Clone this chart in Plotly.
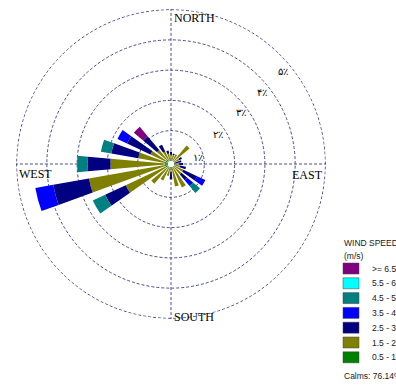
import plotly.graph_objects as go

# Wind directions (degrees, clockwise from north), 15-degree sectors
directions = [0, 15, 30, 45, 60, 75, 90, 105, 120, 135, 150, 165,
              180, 195, 210, 225, 240, 255, 270, 285, 300, 315, 330, 345]

# Frequency (%) per speed class, stacked outward
spd_05_15 = [0.05, 0.0, 0.0, 0.05, 0.0, 0.0, 0.0, 0.0, 0.05, 0.05, 0.05, 0.05,
             0.05, 0.0, 0.05, 0.05, 0.1, 0.1, 0.1, 0.1, 0.1, 0.1, 0.05, 0.05]
spd_15_25 = [0.15, 0.2, 0.25, 0.65, 0.2, 0.0, 0.15, 0.2, 0.3, 0.3, 0.7, 0.6,
             0.1, 0.3, 0.45, 0.7, 1.45, 2.55, 1.8, 0.9, 0.55, 0.4, 0.3, 0.2]
spd_25_35 = [0.1, 0.05, 0.0, 0.0, 0.1, 0.25, 0.15, 0.2, 0.5, 0.25, 0.0, 0.0,
             0.25, 0.0, 0.0, 0.0, 0.75, 1.2, 0.75, 0.9, 0.85, 0.6, 0.25, 0.1]
spd_35_45 = [0, 0, 0, 0, 0, 0, 0, 0, 0.3, 0.25, 0, 0,
             0, 0, 0, 0, 0, 0.6, 0, 0, 0.35, 0, 0, 0]
spd_45_55 = [0, 0, 0, 0, 0, 0, 0, 0, 0, 0.3, 0, 0,
             0, 0, 0, 0, 0.45, 0, 0.35, 0.35, 0, 0, 0, 0]
spd_55_65 = [0] * 24
spd_65_up = [0, 0, 0, 0, 0, 0, 0, 0, 0, 0, 0, 0,
             0, 0, 0, 0, 0, 0, 0, 0, 0, 0.4, 0, 0]

speed_labels = ["0.5 - 1.5", "1.5 - 2.5", "2.5 - 3.5", "3.5 - 4.5",
                "4.5 - 5.5", "5.5 - 6.5", ">= 6.5"]
speed_colors = ["#008000", "#808000", "#000080", "#0000FF",
                "#008080", "#00FFFF", "#800080"]
series = [spd_05_15, spd_15_25, spd_25_35, spd_35_45, spd_45_55, spd_55_65, spd_65_up]

ring_values = [1, 2, 3, 4, 5]
ring_labels = ["۱٪", "۲٪", "۳٪", "۴٪", "۵٪"]
ring_label_r = [0.8, 1.72, 2.75, 3.7, 4.68]
ring_label_theta = [78, 59, 54, 52, 51]

calms_text = "Calms: 76.14%"

W, H = 396, 385


def px(x):
    return x / W


def py(y):
    return 1 - y / H


fig = go.Figure()
for vals, lab, col in zip(series, speed_labels, speed_colors):
    fig.add_trace(go.Barpolar(r=vals, theta=directions, width=10, name=lab,
                              marker=dict(color=col, line=dict(width=0)),
                              showlegend=False))

grid_col = "#4b4b8c"
grid_dash = "3px,2px"
# outer 5% ring (dashed), drawn via the polar scale
ring_theta = list(range(0, 361, 2))
fig.add_trace(go.Scatterpolar(r=[ring_values[-1]] * len(ring_theta), theta=ring_theta,
                              mode="lines", showlegend=False, hoverinfo="skip",
                              line=dict(color=grid_col, width=1, dash=grid_dash)))

fig.add_trace(go.Scatterpolar(r=ring_label_r, theta=ring_label_theta, mode="text",
                              text=ring_labels, showlegend=False,
                              textfont=dict(family="DejaVu Serif", size=10, color="#000000")))

fig.update_layout(
    width=W, height=H,
    margin=dict(l=0, r=0, t=0, b=0),
    paper_bgcolor="white", plot_bgcolor="white",
    barmode="stack",
    polar=dict(
        domain=dict(x=[px(16), px(326)], y=[py(319), py(9)]),
        bgcolor="white",
        hole=0.02,
        radialaxis=dict(range=[0, 5.02], tickvals=ring_values, showticklabels=False,
                        ticks="", showline=False, gridcolor=grid_col, griddash=grid_dash,
                        gridwidth=1),
        angularaxis=dict(rotation=90, direction="clockwise", dtick=90,
                         showticklabels=False, ticks="", showline=False,
                         gridcolor=grid_col, griddash=grid_dash, gridwidth=1),
    ),
)

# Compass labels
serif = dict(family="Liberation Serif", size=12, color="#000000")
compass = [("NORTH", 172, 18, "left"), ("SOUTH", 172, 317, "left"),
           ("WEST", 17, 174, "left"), ("EAST", 325, 175, "right")]
for txt, x, y, anc in compass:
    fig.add_annotation(text=txt, x=px(x), y=py(y), xref="paper", yref="paper",
                       xanchor=anc, yanchor="middle", showarrow=False, font=serif)

# Manual legend
sans = dict(family="Liberation Sans", size=8.5, color="#202020")
fig.add_annotation(text="WIND SPEED", x=px(342), y=py(243), xref="paper", yref="paper",
                   xanchor="left", yanchor="middle", showarrow=False, font=sans)
fig.add_annotation(text="(m/s)", x=px(342), y=py(256), xref="paper", yref="paper",
                   xanchor="left", yanchor="middle", showarrow=False, font=sans)
legend_order = list(range(len(speed_labels)))[::-1]
for i, k in enumerate(legend_order):
    ytop = 263 + i * 14.8
    fig.add_shape(type="rect", xref="paper", yref="paper",
                  x0=px(343), x1=px(359), y0=py(ytop), y1=py(ytop + 11),
                  fillcolor=speed_colors[k], line=dict(color="#404040", width=0.5))
    fig.add_annotation(text=speed_labels[k], x=px(370), y=py(ytop + 5.5),
                       xref="paper", yref="paper", xanchor="left", yanchor="middle",
                       showarrow=False, font=sans)
fig.add_annotation(text=calms_text, x=px(342), y=py(376), xref="paper", yref="paper",
                   xanchor="left", yanchor="middle", showarrow=False, font=sans)

fig.write_html("out.html",
               config={"displayModeBar": False},
               post_script="document.body.style.margin='0px';"
                           "document.body.style.overflow='hidden';")
